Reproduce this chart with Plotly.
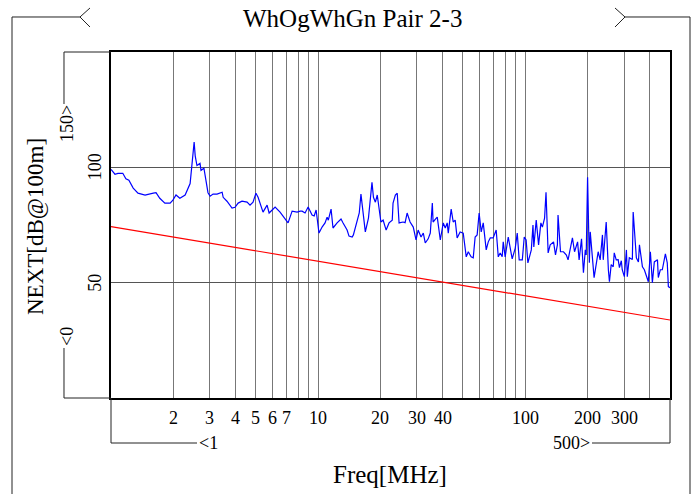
import math
import plotly.graph_objects as go

# ---- data ----
freq_mhz = [
    1.00, 1.045, 1.08, 1.14, 1.18, 1.22, 1.28, 1.35, 1.46, 1.51,
    1.60, 1.65, 1.72, 1.82, 1.93, 1.99, 2.06, 2.15, 2.28, 2.41,
    2.46, 2.52, 2.55, 2.60, 2.69, 2.72, 2.81, 2.88, 2.94, 3.01,
    3.11, 3.25, 3.36, 3.44, 3.48, 3.63, 3.84, 3.97, 4.11, 4.29,
    4.54, 4.69, 4.85, 5.01, 5.13, 5.30, 5.42, 5.67, 5.80, 6.00,
    6.20, 6.55, 6.93, 7.16, 7.49, 7.92, 8.19, 8.37, 8.65, 8.95,
    9.35, 9.57, 9.78, 10.1, 10.45, 10.8, 11.05, 11.2, 11.55, 11.8,
    12.35, 12.5, 12.9, 13.2, 13.8, 14.1, 14.6, 14.8, 15.4, 15.8,
    16.1, 16.5, 16.9, 17.5, 18.2, 18.5, 18.9, 19.3, 19.7, 20.1,
    20.6, 21.3, 22.0, 22.8, 23.0, 23.6, 24.1, 24.6, 25.7, 26.3,
    26.9, 27.8, 28.8, 29.7, 30.4, 31.4, 32.2, 32.9, 34.0, 34.8,
    35.6, 35.9, 37.2, 37.6, 38.9, 40.2, 41.1, 42.0, 42.5, 43.9,
    44.9, 45.9, 46.9, 48.5, 50.2, 51.9, 53.1, 54.8, 56.1, 57.3,
    58.6, 59.9, 61.3, 62.7, 64.8, 66.3, 67.8, 70.0, 72.4, 74.1,
    75.7, 77.4, 78.3, 80.0, 82.8, 86.5, 89.5, 91.5, 93.5, 96.8,
    98.9, 101, 103, 107, 109, 110, 113, 116, 119, 121,
    124, 126, 129, 132, 137, 140, 143, 144, 148, 153,
    158, 161, 169, 173, 179, 182, 187, 191, 195, 197,
    200, 204, 206, 211, 215, 220, 225, 230, 236, 238,
    246, 252, 255, 260, 266, 269, 275, 281, 285, 291,
    294, 301, 308, 311, 318, 329, 332, 344, 352, 356,
    368, 376, 385, 393, 402, 411, 420, 435, 439, 449,
    459, 475, 485, 491, 500,
]
next_db = [
    99.1, 97.0, 97.4, 97.4, 95.0, 94.4, 91.0, 88.8, 88.0, 88.4,
    88.8, 89.0, 86.6, 84.5, 84.5, 85.8, 88.0, 86.6, 88.0, 93.0,
    100.0, 111.0, 105.0, 100.8, 101.7, 98.7, 99.6, 94.4, 89.0, 87.5,
    88.4, 88.4, 88.8, 89.2, 87.0, 85.3, 82.3, 82.7, 84.5, 85.3,
    84.9, 83.6, 84.9, 88.8, 87.0, 83.6, 80.6, 83.6, 80.2, 81.5,
    82.8, 80.6, 77.6, 75.9, 81.0, 80.6, 81.0, 81.0, 80.2, 82.8,
    79.3, 78.9, 81.5, 71.5, 74.1, 75.9, 78.4, 77.1, 81.9, 73.7,
    75.9, 76.3, 77.6, 75.9, 72.8, 70.2, 69.8, 70.7, 75.9, 80.2,
    88.4, 80.2, 72.0, 78.0, 93.5, 87.0, 84.9, 88.0, 82.8, 76.3,
    77.1, 72.8, 75.9, 77.1, 84.5, 88.0, 88.8, 75.9, 76.3, 76.0,
    80.2, 76.3, 74.1, 68.5, 72.8, 69.8, 71.5, 67.2, 69.0, 71.5,
    84.5, 76.3, 78.0, 78.4, 68.5, 75.9, 73.7, 75.9, 71.5, 81.9,
    76.3, 77.1, 69.4, 72.0, 71.5, 61.2, 63.4, 61.2, 60.8, 69.8,
    70.7, 80.2, 72.0, 75.9, 64.2, 67.7, 69.4, 69.4, 72.8, 61.2,
    62.9, 61.2, 67.7, 61.2, 69.8, 60.3, 65.0, 71.5, 59.9, 59.9,
    69.8, 68.5, 58.6, 64.2, 75.0, 65.5, 77.1, 66.4, 75.9, 74.1,
    78.0, 89.2, 62.9, 66.4, 67.7, 62.0, 66.4, 79.3, 63.4, 63.4,
    62.0, 59.9, 69.4, 63.4, 67.7, 59.9, 69.0, 54.3, 64.2, 62.0,
    95.7, 58.6, 72.0, 59.0, 52.2, 57.8, 63.4, 59.9, 70.7, 59.9,
    76.3, 55.6, 50.4, 57.8, 56.9, 62.9, 59.9, 60.0, 56.5, 59.5,
    55.6, 52.6, 64.2, 52.6, 60.8, 60.0, 80.6, 60.8, 59.0, 66.4,
    56.9, 55.6, 52.6, 50.4, 63.4, 50.0, 59.0, 59.9, 52.2, 55.6,
    55.6, 62.5, 58.6, 48.3, 47.8,
]
limit_freq = [1, 10, 100, 500]
limit_db = [74.3, 59.3, 44.3, 33.8]

x_tick_vals = [2, 3, 4, 5, 6, 7, 10, 20, 30, 40, 100, 200, 300]
x_grid_vals = [2, 3, 4, 5, 6, 7, 8, 9, 10, 20, 30, 40, 50, 60, 70, 80, 90,
               100, 200, 300, 400]
y_tick_vals = [50, 100]
x_range = [1, 500]
y_range = [0, 150]

title_text = "WhOgWhGn Pair 2-3"
x_title = "Freq[MHz]"
y_title = "NEXT[dB@100m]"

# ---- layout geometry (pixels) ----
W, H = 700, 494
L, R, T, B = 111, 670, 52, 398


def px(x):
    return (x - L) / (R - L)


def py(y):
    return (B - y) / (B - T)


FONT = "Liberation Serif"
LINE = "#222222"

fig = go.Figure()
fig.add_trace(go.Scatter(x=freq_mhz, y=next_db, mode="lines",
                         line=dict(color="#0000ff", width=1.2),
                         showlegend=False, hoverinfo="skip"))
fig.add_trace(go.Scatter(x=limit_freq, y=limit_db, mode="lines",
                         line=dict(color="#ff0000", width=1.2),
                         showlegend=False, hoverinfo="skip"))

fig.update_layout(
    width=W, height=H,
    margin=dict(l=L, r=W - R, t=T, b=H - B),
    paper_bgcolor="white", plot_bgcolor="white",
    xaxis=dict(type="log", range=[math.log10(x_range[0]), math.log10(x_range[1])],
               tickvals=x_grid_vals, showticklabels=False, ticks="",
               showgrid=True, gridcolor="#777777", gridwidth=1,
               showline=True, linecolor="black", linewidth=2, mirror=True,
               zeroline=False),
    yaxis=dict(range=y_range, tickvals=y_tick_vals, showticklabels=False,
               ticks="", showgrid=True, gridcolor="#555555", gridwidth=1,
               showline=True, linecolor="black", linewidth=2, mirror=True,
               zeroline=False),
)

shapes = []


def path_shape(pts):
    d = "M " + " L ".join(f"{px(a):.5f},{py(b):.5f}" for a, b in pts)
    return dict(type="path", path=d, xref="paper", yref="paper",
                line=dict(color=LINE, width=1), layer="above")


# outer frame with chevrons
shapes.append(path_shape([(12, 494), (12, 17), (80, 17)]))
shapes.append(path_shape([(90, 8), (80, 17), (90, 27)]))
shapes.append(path_shape([(615, 8), (625, 17), (615, 27)]))
shapes.append(path_shape([(625, 17), (690, 17), (690, 494)]))
# y bracket
shapes.append(path_shape([(111, 52), (64, 52), (64, 104)]))
shapes.append(path_shape([(64, 348), (64, 398), (111, 398)]))
# x bracket
shapes.append(path_shape([(111, 398), (111, 443), (197, 443)]))
shapes.append(path_shape([(592, 443), (670, 443), (670, 398)]))
fig.update_layout(shapes=shapes)

ann = []
ann.append(dict(text=title_text, x=px(352), y=py(18), xref="paper", yref="paper",
                showarrow=False, xanchor="center", yanchor="middle",
                font=dict(family=FONT, size=25, color="black")))
ann.append(dict(text=x_title, x=px(390), y=py(474), xref="paper", yref="paper",
                showarrow=False, xanchor="center", yanchor="middle",
                font=dict(family=FONT, size=25, color="black")))
ann.append(dict(text=y_title, x=px(35), y=py(227), xref="paper", yref="paper",
                showarrow=False, xanchor="center", yanchor="middle", textangle=-90,
                font=dict(family=FONT, size=23, color="black")))
for v in x_tick_vals:
    ann.append(dict(text=str(v), x=math.log10(v), y=py(418), xref="x", yref="paper",
                    showarrow=False, xanchor="center", yanchor="middle",
                    font=dict(family=FONT, size=18, color="black")))
for v in y_tick_vals:
    ann.append(dict(text=str(v), x=px(95), y=v, xref="paper", yref="y",
                    showarrow=False, xanchor="center", yanchor="middle", textangle=-90,
                    font=dict(family=FONT, size=18, color="black")))
ann.append(dict(text="&lt;" + str(x_range[0]), x=px(197), y=py(443), xref="paper", yref="paper",
                showarrow=False, xanchor="left", yanchor="middle",
                font=dict(family=FONT, size=18, color="black")))
ann.append(dict(text=str(x_range[1]) + "&gt;", x=px(592), y=py(443), xref="paper", yref="paper",
                showarrow=False, xanchor="right", yanchor="middle",
                font=dict(family=FONT, size=18, color="black")))
ann.append(dict(text=str(y_range[1]) + "&gt;", x=px(67), y=py(124), xref="paper", yref="paper",
                showarrow=False, xanchor="center", yanchor="middle", textangle=-90,
                font=dict(family=FONT, size=18, color="black")))
ann.append(dict(text="&lt;" + str(y_range[0]), x=px(67), y=py(337), xref="paper", yref="paper",
                showarrow=False, xanchor="center", yanchor="middle", textangle=-90,
                font=dict(family=FONT, size=18, color="black")))
fig.update_layout(annotations=ann)

fig.write_html("out.html",
               config={"displayModeBar": False},
               post_script="document.body.style.margin='0';document.body.style.overflow='hidden';")
